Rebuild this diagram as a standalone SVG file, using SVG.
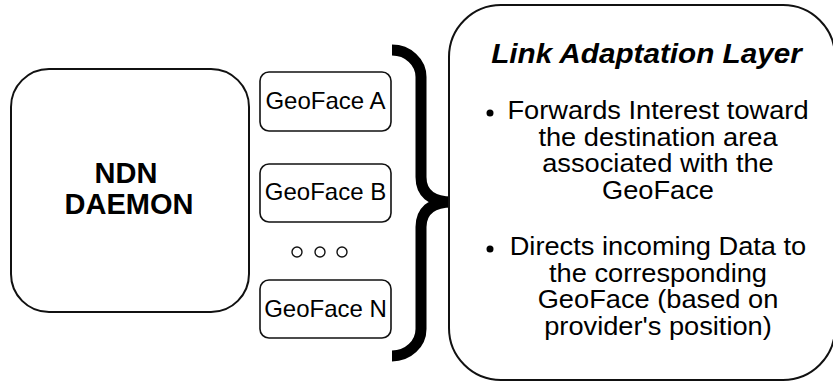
<svg xmlns="http://www.w3.org/2000/svg" width="833" height="384" viewBox="0 0 833 384">
  <style>
    .box { fill: #ffffff; stroke: #111111; }
    .big { stroke-width: 2; }
    .face { stroke-width: 1.6; }
    .t { font-family: "Liberation Sans", Arial, sans-serif; fill: #000000; }
    .daemon { font-size: 29px; font-weight: bold; text-anchor: middle; }
    .gf { font-size: 24px; text-anchor: middle; }
    .title { font-size: 27px; font-weight: bold; font-style: italic; text-anchor: middle; }
    .body { font-size: 25px; text-anchor: middle; }
    .dot { fill: none; stroke: #111111; stroke-width: 1.4; }
  </style>
  <rect width="833" height="384" fill="#ffffff"/>

  <g id="connectors">
    <path d="M392,50 A29,27 0 0 1 421,77 L421,177 C421,192 430,202 452,202 C430,202 421,212 421,227 L421,329 A29,27 0 0 1 392,356" fill="none" stroke="#000000" stroke-width="11"/>
    <circle cx="453" cy="202" r="4.5" fill="#7a7a7a"/>
  </g>

  <g id="ndn-daemon">
    <rect class="box big" x="11" y="69" width="238" height="243" rx="38" ry="38"/>
    <text class="t daemon" x="126" y="183">NDN</text>
    <text class="t daemon" x="129" y="214">DAEMON</text>
  </g>

  <g id="geoface-a">
    <rect class="box face" x="260" y="72" width="131" height="59" rx="9" ry="9"/>
    <text class="t gf" x="325.5" y="109">GeoFace A</text>
  </g>

  <g id="geoface-b">
    <rect class="box face" x="260" y="164" width="131" height="58" rx="9" ry="9"/>
    <text class="t gf" x="325.5" y="200">GeoFace B</text>
  </g>

  <g id="ellipsis">
    <circle class="dot" cx="297" cy="252" r="5"/>
    <circle class="dot" cx="320" cy="252" r="5"/>
    <circle class="dot" cx="342" cy="252" r="5"/>
  </g>

  <g id="geoface-n">
    <rect class="box face" x="260" y="280" width="131" height="58" rx="9" ry="9"/>
    <text class="t gf" x="325.5" y="317">GeoFace N</text>
  </g>

  <g id="link-adaptation-layer">
    <rect class="box big" x="449" y="5" width="386" height="375" rx="52" ry="52"/>
    <g transform="translate(646.5,0) scale(1.1,1) translate(-646.5,0)">
      <text class="t title" x="646.5" y="63">Link Adaptation Layer</text>
    </g>
    <circle cx="490" cy="113" r="3.5" fill="#000000"/>
    <circle cx="490" cy="249" r="3.5" fill="#000000"/>
    <g transform="translate(658,0) scale(1.09,1) translate(-658,0)">
      <text class="t body" x="658" y="119">Forwards Interest toward</text>
      <text class="t body" x="658" y="146">the destination area</text>
      <text class="t body" x="658" y="172">associated with the</text>
      <text class="t body" x="658" y="199">GeoFace</text>
      <text class="t body" x="658" y="255">Directs incoming Data to</text>
      <text class="t body" x="658" y="282">the corresponding</text>
      <text class="t body" x="658" y="308">GeoFace (based on</text>
      <text class="t body" x="658" y="335">provider's position)</text>
    </g>
  </g>
</svg>
